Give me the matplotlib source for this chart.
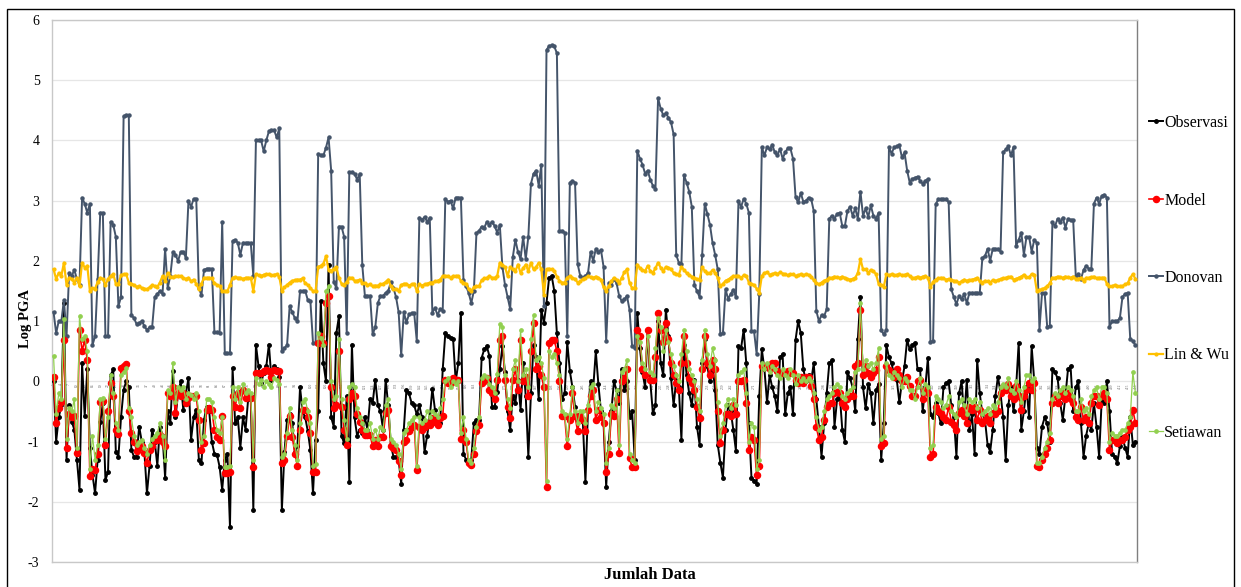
import numpy as np
import matplotlib
matplotlib.use("Agg")
from matplotlib import pyplot as plt
from matplotlib.patches import Rectangle

plt.rcParams['font.family'] = ['Liberation Serif', 'DejaVu Serif']

observasi = [
    0.0, -1.0, -0.6, -0.4, 1.3, -1.3, -0.4, -0.67, -0.8, -1.3,
    -1.8, 0.3, -0.58, 0.2, -1.1, -1.55, -1.86, -1.3, -0.68, -0.36,
    -1.64, -1.5, 0.1, 0.2, -1.17, -1.25, -0.6, -0.14, 0.0, -0.1,
    -1.14, -1.25, -1.25, -0.75, -1.0, -1.17, -1.86, -1.4, -0.8, -1.0,
    -1.4, -0.75, -0.9, -1.6, -0.5, -0.7, 0.17, -0.6, -0.2, 0.0,
    -0.47, -0.2, 0.05, -0.97, -0.6, -0.47, -1.3, -1.36, -0.64, -0.42,
    -0.5, -1.0, -1.2, -1.22, -1.42, -1.8, -1.3, -1.2, -2.42, 0.22,
    -0.7, -0.6, -1.1, -0.6, -0.8, -0.3, -0.25, -2.14, 0.61, 0.25,
    -0.03, 0.14, 0.25, 0.61, 0.03, 0.25, 0.2, 0.08, -2.14, -1.17,
    -0.64, -0.55, -0.7, -1.17, -1.08, -0.1, -0.5, -0.6, -0.83, -1.14,
    -1.86, -0.97, -0.5, 1.33, 0.3, 0.0, 1.94, -0.6, -0.75, 0.8,
    1.08, -0.9, -1.03, -0.25, -1.67, 0.61, -0.6, -0.9, -0.8, -0.85,
    -0.6, -0.8, -0.3, -0.36, 0.03, -0.4, -0.5, -0.8, 0.03, -0.4,
    -1.05, -1.25, -1.25, -1.3, -1.7, -0.8, -0.14, -0.2, -0.36, -0.4,
    -0.55, -0.4, -0.6, -1.17, -0.9, -0.6, -0.12, -0.47, -0.64, -0.7,
    0.2, 0.8, 0.75, 0.72, 0.7, 0.0, 0.3, 1.14, -1.2, -1.3,
    -1.35, -1.3, -0.7, -0.64, -0.64, 0.39, 0.53, 0.58, 0.42, -0.42,
    -0.42, -0.17, 0.2, 0.58, 0.15, -0.5, -0.8, -0.25, -0.36, 0.03,
    -0.47, 0.3, -0.25, -1.25, -0.2, 0.6, 0.4, -0.3, 1.19, 0.97,
    1.3, 1.72, 1.75, 1.5, 0.8, 0.3, -0.3, -0.2, 0.65, 0.17,
    -0.1, -0.42, -0.64, -0.55, -0.67, -1.67, -0.47, 0.0, -0.12, 0.5,
    -0.05,
    -0.5, -0.7, -1.75, -1.0, -0.5, 0.0, -0.15, -0.36, 0.2,
    -0.15, 0.0, -0.6, -0.5, -1.3, 1.14, 0.55, 0.15, -0.1, 0.86,
    0.0, -0.53, -0.4, 1.0, 0.3, 0.1, 1.19, 0.75, 0.05, -0.4,
    0.03, -0.1, -0.97, 0.6, 0.1, -0.2, -0.4, 0.03, -0.75, -1.05,
    0.3, 0.7, 0.25, 0.0, 0.25, -0.15, -1.05, -1.35, -1.6, -0.8,
    -0.4, -0.5, -0.8, -1.15, 0.58, 0.55, 0.86, 0.3, -0.7, -1.6,
    -1.65, -1.7, -0.25, 0.53, 0.2, -0.35, 0.1, -0.1, -0.25, -0.5,
    0.4, 0.45, -0.55, -0.2, -0.1, -0.55, 0.69, 1.0, 0.8, 0.2,
    0.0, 0.1, 0.0, 0.3, -0.3, -0.75, -1.25, -0.7, -0.2, 0.3,
    0.35, -0.75, -0.3, -0.2, -0.8, -1.0, 0.15, 0.05, -0.1, -0.5,
    0.7, 1.4, -0.1, -0.45, -0.05, -0.2, -0.7, -0.15, -0.05, -1.3,
    -0.7, 0.6, 0.4, 0.3, 0.1, 0.03, -0.35, 0.0, 0.25, 0.69,
    0.53, 0.6, 0.64, 0.2, 0.2, -0.5, -0.1, 0.39, -0.55, -0.6,
    -0.36, -0.53, -0.7, -0.1, -0.03, 0.0, -0.4, -0.6, -1.25, -0.2,
    0.0, -0.6, 0.03, -0.8, -0.55, -1.2, 0.36, -0.2, -0.55, -0.64,
    -1.05, -1.17, -0.8, -0.25, 0.08, -0.2, -0.6, -1.3, -0.4, -0.1,
    -0.5, -0.1, 0.64, -0.8, -0.5, -0.1, -0.6, 0.58, 0.0, -1.1,
    -1.2, -0.75, -0.6, -0.7, -1.0, 0.2, 0.15, 0.05, -0.36, -0.64,
    -0.25, 0.2, 0.25, -0.5, -0.1, 0.0, -0.7, -1.25, -0.9, -0.7,
    -0.8, -0.36, -0.75, -1.25, -0.3, -0.36, 0.0, -0.5, -1.2, -1.25,
    -1.36, -1.08, -0.92, -1.1, -1.25, -0.6, -1.05, -1.0,
]

model = [
    0.08, -0.7, -0.45, -0.35, 0.69, -1.1, -0.55, -0.6, -0.58, -1.19,
    0.86, 0.5, 0.69, 0.35, -1.58, -1.45, -1.47, -1.2, -0.35, -0.32,
    -1.05, -0.5, -0.03, -0.25, -0.8, -0.88, 0.22, 0.25, 0.28, -0.5,
    -0.85, -1.0, -1.15, -1.1, -1.08, -1.19, -1.36, -1.14, -1.08, -0.97,
    -0.97, -0.89, -1.0, -1.08, -0.2, -0.25, -0.1, -0.53, -0.2, -0.25,
    -0.2, -0.36, -0.28, -0.25, -0.25, -0.25, -0.64, -1.14, -1.03, -0.47,
    -0.44, -0.47, -0.8, -0.92, -0.97, -0.58, -1.53, -1.53, -1.5, -0.25,
    -0.42, -0.2, -0.44, -0.14, -0.28, -0.25, -0.28, -1.42, 0.14, 0.14,
    0.14, 0.17, 0.19, 0.17, 0.08, 0.19, 0.17, 0.17, -1.36, -1.31,
    -0.9, -0.58, -0.92, -1.2, -1.4, -0.8, -0.47, -0.47, -0.6, -0.85,
    -1.5, -1.5, 0.64, 0.75, 0.64, 1.3, 1.42, -0.1, -0.45, -0.4,
    0.5, -0.42, -0.8, -1.05, -0.3, -0.2, -0.25, -0.55, -0.68, -0.8,
    -0.89, -0.89, -0.89, -1.08, -0.97, -1.08, -0.92, -0.92, -0.53, -0.47,
    -1.08, -1.11, -1.14, -1.33, -1.55, -1.0, -0.97, -0.83, -0.75, -0.72,
    -1.47, -0.75, -0.8, -0.75, -0.69, -0.72, -0.61, -0.67, -0.72, -0.61,
    -0.58, 0.03, -0.03, -0.03, 0.05, 0.03, 0.03, -0.95, -0.8, -1.0,
    -1.36, -1.39, -1.2, -0.83, -0.72, -0.03, 0.0, 0.05, -0.14, -0.2,
    -0.3, 0.03, 0.69, 0.75, 0.03, -0.42, -0.61, 0.03, 0.2, -0.14,
    0.69, 0.0, 0.08, -0.25, 0.5, 0.97, 0.2, 0.25, 0.1, -0.1,
    -1.75, 0.64, 0.69, 0.69, 0.5, 0.0, -0.58, -0.58, -1.08, -0.64,
    -0.2, -0.58, -0.83, -0.58, -0.64, -0.83, -0.47, -0.25, -0.14, -0.64,
    -0.47,
    -0.6, -0.7, -1.5, -1.2, -0.55, -0.58, -0.3, -1.19, 0.0,
    0.05, 0.2, -1.28, -1.42, -1.42, 0.86, 0.75, 0.2, 0.1, 0.86,
    0.03, 0.03, 0.4, 1.14, 0.85, 0.65, 0.97, 0.7, 0.3, 0.1,
    -0.03, -0.15, 0.3, 0.75, 0.3, 0.05, -0.03, -0.14, -0.42, -0.61,
    0.2, 0.75, 0.3, 0.1, 0.35, 0.2, -0.5, -1.03, -0.8, -0.55,
    -0.55, -0.58, -0.4, -0.55, 0.0, 0.0, 0.03, -0.36, -1.14, -0.92,
    -0.97, -1.56, -1.4, 0.25, 0.25, 0.25, 0.2, 0.3, 0.3, 0.17,
    0.14, 0.14, 0.14, 0.17, 0.14, 0.14, 0.03, -0.03, 0.08, -0.03,
    0.08, 0.08, -0.08, -0.3, -0.75, -0.97, -0.92, -0.64, -0.42, -0.36,
    -0.36, -0.2, -0.17, -0.2, -0.36, -0.42, -0.3, -0.25, -0.25, 0.25,
    0.3, 1.19, 0.1, 0.25, 0.14, 0.08, 0.14, 0.19, 0.4, -1.08,
    -1.03, 0.25, 0.19, 0.14, 0.08, 0.2, 0.11, 0.0, 0.0, 0.08,
    -0.08, -0.25, -0.25, 0.0, 0.03, -0.3, -0.14, -0.2, -1.25, -1.2,
    -0.42, -0.5, -0.53, -0.6, -0.64, -0.42, -0.67, -0.72, -0.8, -0.53,
    -0.47, -0.58, -0.7, -0.42, -0.47, -0.42, -0.64, -0.47, -0.7, -0.64,
    -0.58, -0.7, -0.53, -0.55, -0.5, -0.2, -0.1, -0.14, -0.05, -0.25,
    -0.3, -0.08, -0.25, -0.47, -0.25, -0.14, -0.03, -0.14, -0.03, -1.4,
    -1.42, -1.3, -1.2, -1.1, -0.97, -0.36, -0.25, -0.36, -0.25, -0.2,
    -0.3, -0.2, -0.3, -0.36, -0.6, -0.64, -0.42, -0.64, -0.6, -0.7,
    -0.36, -0.25, -0.25, -0.4, -0.25, -0.2, -0.3, -1.14, -0.97, -0.97,
    -1.03, -0.97, -0.97, -0.92, -0.8, -0.75, -0.47, -0.7,
]

donovan = [
    1.15, 0.8, 1.0, 1.0, 1.35, 0.75, 1.8, 1.75, 1.85, 1.7,
    1.6, 3.05, 2.95, 2.8, 2.95, 0.6, 0.75, 1.7, 2.8, 2.8,
    0.75, 0.75, 2.65, 2.6, 2.4, 1.25, 1.4, 4.4, 4.42, 4.42,
    1.1, 1.05, 0.95, 0.97, 1.0, 0.92, 0.85, 0.9, 0.9, 1.4,
    1.45, 1.5, 1.45, 2.2, 1.55, 1.75, 2.15, 2.1, 2.0, 2.15,
    2.15, 2.05, 3.0, 2.9, 3.03, 3.03, 1.55, 1.43, 1.85, 1.87,
    1.87, 1.87, 0.82, 0.82, 0.8, 2.65, 0.47, 0.47, 0.47, 2.33,
    2.35, 2.3, 2.1, 2.3, 2.3, 2.3, 2.3, 1.75, 4.0, 4.0,
    4.0, 3.82, 4.0, 4.15, 4.17, 4.17, 4.05, 4.2, 0.5, 0.55,
    0.6, 1.25, 1.15, 1.05, 1.0, 1.5, 1.5, 1.5, 1.35, 1.33,
    0.64, 0.64, 3.78, 3.75, 3.75, 3.88, 4.05, 3.5, 1.65, 1.55,
    2.57, 2.57, 2.4, 0.8, 3.47, 3.47, 3.45, 3.35, 3.45, 1.93,
    1.42, 1.42, 1.42, 0.78, 0.9, 1.3, 1.42, 1.42, 1.47, 1.5,
    1.65, 1.55, 1.4, 1.15, 0.43, 1.15, 0.98, 1.11, 1.13, 1.13,
    0.67, 2.72, 2.68, 2.73, 2.65, 2.72, 1.14, 1.22, 1.1, 1.2,
    1.17, 3.03, 2.98, 3.0, 2.87, 3.05, 3.05, 3.05, 1.68, 1.58,
    1.47, 1.3, 1.5, 2.46, 2.5, 2.57, 2.55, 2.65, 2.6, 2.65,
    2.58, 2.47, 2.6, 1.9, 1.6, 1.4, 1.2, 2.06, 2.35, 2.15,
    2.03, 2.4, 2.03, 2.4, 3.28, 3.45, 3.5, 3.25, 3.6, 1.25,
    5.5, 5.57, 5.58, 5.56, 5.45, 2.5, 2.5, 2.47, 0.75, 3.3,
    3.33, 3.3, 1.95, 1.75, 1.72, 1.75, 1.8, 2.15, 2.0, 2.2,
    2.15,
    2.18, 1.9, 0.67, 1.64, 1.6, 1.7, 1.63, 1.42, 1.33,
    1.36, 1.42, 1.19, 0.58, 0.55, 3.83, 3.7, 3.6, 3.45, 3.5,
    3.35, 3.25, 3.2, 4.7, 4.53, 4.42, 4.45, 4.38, 4.3, 4.1,
    2.1, 1.97, 1.95, 3.42, 3.3, 3.15, 2.9, 1.6, 1.5, 1.4,
    2.1, 2.95, 2.78, 2.6, 2.3, 2.1, 1.86, 0.78, 0.8, 1.53,
    1.37, 1.45, 1.52, 1.4, 3.0, 2.9, 3.03, 2.95, 2.8, 0.83,
    0.83, 0.45, 1.45, 3.89, 3.75, 3.89, 3.85, 3.93, 3.8, 3.75,
    3.86, 3.7, 3.8, 3.87, 3.87, 3.7, 3.06, 2.97, 3.13, 2.98,
    3.0, 3.05, 3.03, 2.83, 1.17, 1.0, 1.1, 1.08, 1.2, 2.7,
    2.75, 2.7, 2.78, 2.8, 2.58, 2.58, 2.83, 2.9, 2.75, 2.87,
    2.7, 3.15, 2.75, 2.87, 2.73, 2.92, 2.75, 2.7, 2.8, 0.85,
    0.78, 0.86, 3.89, 3.78, 3.89, 3.9, 3.92, 3.72, 3.8, 3.5,
    3.3, 3.36, 3.38, 3.4, 3.33, 3.28, 3.33, 3.36, 0.65, 0.67,
    2.94, 3.02, 3.02, 3.02, 3.02, 2.98, 1.53, 1.4, 1.28, 1.42,
    1.36, 1.45, 1.3, 1.47, 1.47, 1.47, 1.47, 1.47, 2.05, 2.08,
    2.2, 2.0, 2.2, 2.2, 2.2, 2.15, 3.8, 3.85, 3.9, 3.75,
    3.89, 2.25, 2.35, 2.47, 2.1, 2.4, 2.4, 2.15, 2.35, 2.3,
    0.86, 1.47, 1.47, 0.9, 0.92, 2.64, 2.58, 2.7, 2.64, 2.72,
    2.55, 2.7, 2.68, 2.68, 1.75, 1.78, 1.7, 1.85, 1.92, 1.87,
    1.87, 2.95, 3.05, 2.95, 3.08, 3.1, 3.05, 0.9, 1.0, 1.0,
    1.0, 1.05, 1.4, 1.45, 1.47, 0.7, 0.67, 0.6,
]

lin_wu = [
    1.86, 1.7, 1.8, 1.75, 1.97, 1.6, 1.72, 1.7, 1.64, 1.72,
    1.58, 1.97, 1.89, 1.92, 1.5, 1.55, 1.54, 1.65, 1.72, 1.7,
    1.6, 1.7, 1.75, 1.78, 1.62, 1.62, 1.76, 1.78, 1.78, 1.64,
    1.62, 1.6, 1.57, 1.58, 1.55, 1.54, 1.53, 1.56, 1.6, 1.58,
    1.57, 1.64, 1.75, 1.67, 1.8, 1.74, 1.73, 1.75, 1.75, 1.75,
    1.72, 1.7, 1.72, 1.66, 1.69, 1.62, 1.53, 1.62, 1.72, 1.72,
    1.72, 1.71, 1.63, 1.6, 1.58, 1.5, 1.5, 1.5, 1.6, 1.72,
    1.73, 1.72, 1.72, 1.7, 1.72, 1.72, 1.72, 1.5, 1.78, 1.76,
    1.75, 1.77, 1.78, 1.78, 1.76, 1.77, 1.78, 1.74, 1.5, 1.56,
    1.6, 1.64, 1.67, 1.68, 1.69, 1.69, 1.71, 1.63, 1.6, 1.55,
    1.5, 1.5, 1.9, 1.92, 1.95, 2.08, 1.85, 1.83, 1.87, 1.9,
    1.72, 1.62, 1.6, 1.65, 1.72, 1.72, 1.67, 1.67, 1.69, 1.64,
    1.63, 1.6, 1.61, 1.58, 1.59, 1.59, 1.61, 1.62, 1.65, 1.69,
    1.58, 1.54, 1.53, 1.5, 1.6, 1.62, 1.62, 1.59, 1.61, 1.62,
    1.5, 1.61, 1.59, 1.61, 1.62, 1.64, 1.64, 1.66, 1.67, 1.69,
    1.75, 1.75, 1.75, 1.72, 1.75, 1.75, 1.75, 1.67, 1.64, 1.62,
    1.53, 1.5, 1.56, 1.58, 1.58, 1.68, 1.71, 1.72, 1.75, 1.72,
    1.72, 1.75, 1.97, 1.93, 1.9, 1.75, 1.9, 1.86, 1.83, 1.94,
    1.8, 1.88, 1.94, 1.83, 1.97, 1.86, 1.9, 1.97, 1.86, 1.44,
    1.86, 1.87, 1.86, 1.83, 1.74, 1.67, 1.64, 1.64, 1.72, 1.75,
    1.72, 1.7, 1.64, 1.66, 1.7, 1.71, 1.75, 1.73, 1.72, 1.74,
    1.72,
    1.69, 1.56, 1.5, 1.58, 1.66, 1.72, 1.69, 1.63, 1.72,
    1.81, 1.86, 1.63, 1.55, 1.55, 1.94, 1.88, 1.85, 1.83, 1.92,
    1.83, 1.8, 1.88, 1.97, 1.89, 1.83, 1.9, 1.89, 1.86, 1.8,
    1.78, 1.77, 1.9, 1.85, 1.8, 1.76, 1.74, 1.72, 1.7, 1.68,
    1.9, 1.83, 1.8, 1.8, 1.85, 1.8, 1.72, 1.58, 1.62, 1.67,
    1.69, 1.72, 1.75, 1.75, 1.75, 1.72, 1.76, 1.75, 1.64, 1.62,
    1.6, 1.54, 1.47, 1.75, 1.8, 1.81, 1.77, 1.78, 1.8, 1.78,
    1.81, 1.79, 1.78, 1.76, 1.78, 1.78, 1.75, 1.76, 1.78, 1.76,
    1.78, 1.77, 1.74, 1.68, 1.63, 1.61, 1.64, 1.67, 1.69, 1.72,
    1.72, 1.74, 1.73, 1.72, 1.74, 1.72, 1.7, 1.69, 1.7, 1.72,
    1.8, 2.03, 1.86, 1.86, 1.8, 1.85, 1.83, 1.78, 1.62, 1.6,
    1.57, 1.78, 1.76, 1.78, 1.76, 1.77, 1.78, 1.76, 1.77, 1.78,
    1.75, 1.72, 1.72, 1.74, 1.72, 1.74, 1.75, 1.72, 1.56, 1.65,
    1.69, 1.71, 1.72, 1.71, 1.69, 1.7, 1.69, 1.67, 1.66, 1.64,
    1.66, 1.69, 1.67, 1.68, 1.69, 1.7, 1.72, 1.66, 1.64, 1.67,
    1.66, 1.64, 1.68, 1.67, 1.68, 1.7, 1.71, 1.72, 1.73, 1.74,
    1.69, 1.7, 1.72, 1.74, 1.77, 1.73, 1.73, 1.78, 1.77, 1.5,
    1.52, 1.53, 1.55, 1.58, 1.63, 1.72, 1.72, 1.74, 1.73, 1.72,
    1.74, 1.73, 1.72, 1.74, 1.7, 1.7, 1.72, 1.67, 1.72, 1.72,
    1.73, 1.74, 1.71, 1.72, 1.72, 1.72, 1.62, 1.58, 1.58, 1.6,
    1.58, 1.58, 1.58, 1.61, 1.63, 1.72, 1.78, 1.7,
]

setiawan = [
    0.42, -0.55, -0.2, -0.3, 1.03, -0.95, -0.45, -0.5, -0.3, -1.1,
    1.08, 0.7, 0.75, 0.5, -1.45, -0.9, -1.3, -1.05, -0.3, -0.28,
    -0.95, -0.6, 0.1, -0.2, -0.7, -0.8, 0.1, 0.15, 0.22, -0.45,
    -0.6, -0.9, -1.05, -1.0, -0.97, -1.1, -1.2, -1.05, -0.95, -0.9,
    -0.85, -0.7, -0.9, -1.3, -0.15, -0.2, 0.3, -0.35, -0.1, -0.15,
    -0.1, -0.3, -0.2, -0.22, -0.3, -0.2, -0.5, -1.0, -0.9, -0.3,
    -0.3, -0.35, -0.6, -0.8, -0.85, -0.6, -1.42, -1.42, -1.4, -0.1,
    -0.3, -0.1, -0.35, -0.05, -0.2, -0.15, -0.2, -1.3, 0.05, -0.05,
    0.02, -0.1, 0.0, -0.05, -0.1, 0.05, 0.03, -0.05, -1.25, -1.2,
    -0.85, -0.45, -0.8, -1.05, -1.3, -0.7, -0.35, -0.3, -0.5, -0.7,
    -1.4, -1.38, 0.8, 0.72, 0.6, 1.5, 1.58, 0.0, -0.3, -0.25,
    0.7, -0.3, -0.65, -0.95, -0.1, -0.05, -0.1, -0.45, -0.6, -0.7,
    -0.8, -0.8, -0.7, -0.95, -0.8, -0.95, -0.75, -0.8, -0.4, -0.3,
    -0.95, -1.0, -1.05, -1.2, -1.45, -0.85, -0.8, -0.7, -0.65, -0.6,
    -1.4, -0.6, -0.7, -0.65, -0.5, -0.6, -0.5, -0.55, -0.6, -0.45,
    -0.3, 0.0, 0.05, -0.1, 0.0, -0.05, 0.0, -0.85, -0.6, -0.95,
    -1.3, -1.35, -1.1, -0.75, -0.6, 0.05, 0.1, 0.08, -0.05, -0.1,
    -0.2, 0.12, 0.95, 0.9, 0.1, -0.3, -0.45, 0.2, 0.35, 0.0,
    0.85, 0.1, 0.2, -0.1, 0.7, 1.1, 0.35, 0.4, 0.3, 0.05,
    -1.65, 0.5, 0.4, 0.45, 0.3, 0.1, -0.5, -0.55, -0.95, -0.55,
    -0.1, -0.5, -0.7, -0.5, -0.5, -0.7, -0.4, -0.1, -0.05, -0.5,
    -0.35,
    -0.45, -0.55, -1.35, -1.1, -0.4, -0.45, -0.15, -1.05, 0.15,
    0.2, 0.35, -1.2, -1.3, -1.35, 0.75, 0.65, 0.3, 0.2, 0.75,
    0.15, 0.1, 0.55, 1.05, 0.9, 0.5, 0.85, 0.65, 0.45, 0.25,
    0.1, 0.0, 0.45, 0.85, 0.5, 0.2, 0.1, 0.0, -0.3, -0.5,
    0.35, 0.85, 0.45, 0.25, 0.55, 0.35, -0.35, -0.9, -0.7, -0.4,
    -0.3, -0.45, -0.3, -0.4, 0.1, 0.15, 0.2, -0.2, -1.0, -0.7,
    -0.75, -1.45, -1.3, 0.3, 0.2, 0.3, 0.15, 0.25, 0.2, 0.1,
    0.05, 0.2, 0.1, 0.05, 0.2, 0.1, -0.05, 0.1, 0.0, 0.05,
    0.0, 0.05, 0.0, -0.2, -0.6, -0.8, -0.75, -0.5, -0.3, -0.25,
    -0.2, -0.1, -0.05, -0.1, -0.25, -0.3, -0.2, -0.15, -0.1, 0.15,
    0.2, 1.3, 0.2, 0.35, 0.25, 0.3, 0.2, 0.3, 0.55, -0.95,
    -0.9, 0.3, 0.1, 0.05, 0.15, 0.1, 0.05, -0.1, 0.05, 0.0,
    -0.15, -0.15, -0.3, -0.1, 0.05, -0.2, -0.05, -0.1, -1.1, -1.05,
    -0.25, -0.3, -0.35, -0.45, -0.4, -0.25, -0.5, -0.55, -0.6, -0.35,
    -0.3, -0.4, -0.55, -0.3, -0.35, -0.3, -0.45, -0.35, -0.55, -0.5,
    -0.45, -0.55, -0.4, -0.45, -0.35, -0.1, -0.05, -0.1, 0.05, -0.15,
    -0.2, 0.0, -0.15, -0.35, -0.1, 0.1, 0.1, 0.0, 0.05, -1.35,
    -1.35, -1.25, -1.1, -1.0, -0.85, -0.3, -0.2, -0.25, -0.15, -0.1,
    -0.2, -0.1, -0.15, -0.25, -0.5, -0.5, -0.3, -0.5, -0.45, -0.55,
    -0.25, -0.15, -0.1, -0.3, -0.1, -0.1, -0.2, -1.0, -0.85, -0.9,
    -0.9, -0.85, -0.8, -0.8, -0.7, -0.6, 0.15, -0.2,
]

y_ticks = [6, 5, 4, 3, 2, 1, 0, -1, -2, -3]

fig = plt.figure(figsize=(12.41, 5.87), dpi=100)
ax = fig.add_axes([52 / 1241, 1 - 562 / 587, (1137 - 52) / 1241, (562 - 20) / 587])

n = len(observasi)
ax.plot(np.arange(len(observasi)), observasi, color='black', lw=1.4,
        marker='o', ms=2.5, label='Observasi', zorder=3)
ax.plot(np.arange(len(model)), model, color='#FF0000', lw=1.2,
        marker='o', ms=4.4, label='Model', zorder=4)
ax.plot(np.arange(len(donovan)), donovan, color='#44546A', lw=1.4,
        marker='o', ms=2.2, label='Donovan', zorder=3)
ax.plot(np.arange(len(lin_wu)), lin_wu, color='#FFC000', lw=1.6,
        marker='o', ms=2.0, label='Lin & Wu', zorder=3)
ax.plot(np.arange(len(setiawan)), setiawan, color='#92D050', lw=0.9,
        marker='o', ms=2.4, label='Setiawan', zorder=5)

ax.set_xlim(-0.6, n - 0.4)
ax.set_ylim(-3, 6)
ax.set_yticks(y_ticks)
ax.set_yticklabels([str(t) for t in y_ticks], fontsize=10)
ax.set_xticks([])
ax.tick_params(axis='y', length=0, pad=9)
ax.grid(axis='y', color='#E6E6E6', lw=0.9, zorder=0)
ax.set_axisbelow(True)

for side in ['left', 'top', 'bottom']:
    ax.spines[side].set_color('#C8C8C8')
    ax.spines[side].set_linewidth(1.0)
ax.spines['right'].set_color('#7F7F7F')
ax.spines['right'].set_linewidth(1.0)

# category labels drawn along the zero line
for i in range(0, n, 3):
    ax.text(i, -0.03, str(i + 1), fontsize=2.6, rotation=90, color='#595959',
            ha='center', va='top', zorder=2)

fig.text(25 / 1241, 1 - 318 / 587, 'Log PGA', rotation=90, fontsize=10.5,
         fontweight='bold', ha='center', va='center')
fig.text(650 / 1241, 1 - 575 / 587, 'Jumlah Data', fontsize=12,
         fontweight='bold', ha='center', va='center')

leg = fig.legend(loc='center left', bbox_to_anchor=(1141 / 1241, 1 - 278 / 587),
                 frameon=False, fontsize=11.5, labelspacing=3.85,
                 handlelength=0.85, handletextpad=0.1, borderpad=0,
                 markerscale=1.0)

fig.patches.append(Rectangle((7 / 1241, -0.01), (1234 - 7) / 1241, 1.01 - 9 / 587,
                             transform=fig.transFigure, fill=False,
                             edgecolor='black', lw=1.0))

fig.savefig('out.png', dpi=100)
